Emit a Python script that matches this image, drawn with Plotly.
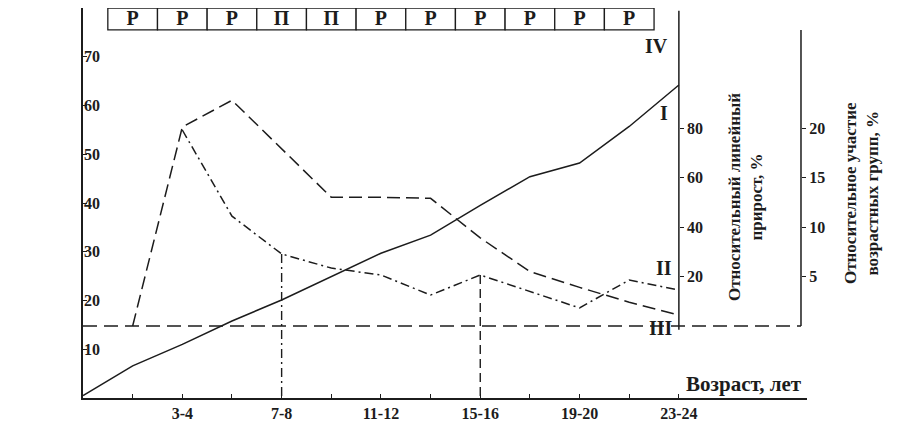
import plotly.graph_objects as go

# ось X: номер возрастной группы (0 = рождение, 2 = 3-4 года, ... 12 = 23-24 года)
x_ticks = list(range(13))
x_labels = ['', '', '3-4', '', '7-8', '', '11-12', '', '15-16', '', '19-20', '', '23-24']

# кривая I (левая ось)
x_i = [0, 1, 2, 3, 4, 5, 6, 7, 8, 9, 10, 11, 12]
y_i = [0.5, 6.6, 11.0, 15.8, 20.1, 24.9, 29.7, 33.4, 39.5, 45.4, 48.2, 55.7, 64.2]

# кривая II, относительный линейный прирост, %
x_ii = [2, 3, 4, 5, 6, 7, 8, 9, 10, 11, 12]
y_ii = [79.2, 44.4, 29.1, 23.4, 20.6, 12.5, 20.6, 13.9, 7.3, 18.6, 14.5]

# штриховая кривая, относительное участие возрастных групп, %
x_part = [1, 2, 3, 4, 5, 6, 7, 8, 9, 10, 11, 12]
y_part = [0, 20.1, 22.8, 17.9, 13.0, 13.0, 12.9, 8.9, 5.5, 3.9, 2.4, 1.1]

# вертикальные линии (7-8 и 15-16)
drop_x = [4, 8]

# верхняя полоса
band_x = [1, 2, 3, 4, 5, 6, 7, 8, 9, 10, 11]
band_txt = ['Р', 'Р', 'Р', 'П', 'П', 'Р', 'Р', 'Р', 'Р', 'Р', 'Р']

FONT = 'Liberation Serif'
INK = '#1c1c1c'
X_MAX = 14.58
Y2_RANGE = [-29.1, 128.5]
Y3_RANGE = [Y2_RANGE[0] / 4, Y2_RANGE[1] / 4]
AX2_POS = 0.9917

# пиксели окна -> координаты paper (страница сдвинута на 8px отступом body)
def px(x):
    return (x - 83) / 724

def py(y):
    return (398 - y) / 390


fig = go.Figure()

# верхняя полоса с буквами
fig.add_trace(go.Bar(x=band_x, y=[4.5] * len(band_x), base=75.5, width=1, cliponaxis=False,
                     marker=dict(color='white', line=dict(color=INK, width=1.3)),
                     showlegend=False, hoverinfo='skip'))
fig.add_trace(go.Scatter(x=band_x, y=[77.6] * len(band_x), mode='text', text=band_txt,
                         textfont=dict(family=FONT, size=20, color=INK, weight='bold'),
                         showlegend=False, hoverinfo='skip', cliponaxis=False))

# кривая I
fig.add_trace(go.Scatter(x=x_i, y=y_i, mode='lines', line=dict(color=INK, width=1.5),
                         showlegend=False))

# кривая II
fig.add_trace(go.Scatter(x=x_ii, y=y_ii, mode='lines', yaxis='y2',
                         line=dict(color=INK, width=1.5, dash='9px,4px,2px,4px'),
                         showlegend=False))

# вертикальные линии от кривой II до оси X
for k, d in enumerate(drop_x):
    fig.add_trace(go.Scatter(x=[d, d], y=[y_ii[x_ii.index(d)], Y2_RANGE[0]], mode='lines',
                             yaxis='y2',
                             line=dict(color=INK, width=1.4,
                                       dash='9px,4px,2px,4px' if k == 0 else '9px,5px'),
                             showlegend=False, hoverinfo='skip'))

# штриховая кривая
fig.add_trace(go.Scatter(x=x_part, y=y_part, mode='lines', yaxis='y3',
                         line=dict(color=INK, width=1.5, dash='13px,6px'),
                         showlegend=False))

# линия III (ноль правых осей)
fig.add_trace(go.Scatter(x=[0, AX2_POS * X_MAX], y=[0, 0], mode='lines', yaxis='y2',
                         line=dict(color=INK, width=1.4, dash='14px,7px'),
                         showlegend=False, hoverinfo='skip'))

tickfont = dict(family=FONT, size=16, color=INK, weight='bold')

fig.update_layout(
    width=894, height=430,
    margin=dict(l=75, r=95, t=0, b=40),
    plot_bgcolor='white', paper_bgcolor='white',
    xaxis=dict(range=[0, X_MAX], tickvals=x_ticks, ticktext=x_labels, ticks='inside',
               ticklen=4, tickcolor=INK, showline=True, linecolor=INK, linewidth=1.5,
               showgrid=False, zeroline=False, tickfont=tickfont),
    yaxis=dict(range=[0, 80], tickvals=[10, 20, 30, 40, 50, 60, 70], ticks='inside',
               ticklen=4, tickcolor=INK, showline=True, linecolor=INK, linewidth=1.5,
               showgrid=False, zeroline=False, tickfont=tickfont, ticklabelstandoff=-22),
    yaxis2=dict(range=Y2_RANGE, overlaying='y', anchor='free', position=12 / X_MAX,
                side='right', tickvals=[20, 40, 60, 80], ticks='outside', ticklen=4,
                tickcolor=INK, showline=False, showgrid=False, zeroline=False,
                tickfont=tickfont),
    yaxis3=dict(range=Y3_RANGE, overlaying='y', anchor='free', position=AX2_POS,
                side='right', tickvals=[5, 10, 15, 20], ticks='outside', ticklen=4,
                tickcolor=INK, showline=False, showgrid=False, zeroline=False,
                tickfont=tickfont),
    shapes=[
        dict(type='line', xref='x', x0=12, x1=12, yref='y2', y0=-1.5, y1=127.4,
             line=dict(color=INK, width=1.5)),
        dict(type='line', xref='paper', x0=AX2_POS, x1=AX2_POS, yref='y3', y0=0, y1=29.9,
             line=dict(color=INK, width=1.5)),
    ],
)

ann = [
    ('IV', 656, 46, 20), ('I', 664, 113, 20), ('II', 664, 268, 20), ('III', 661, 328, 20),
    ('Возраст, лет', 744, 384, 21),
]
for txt, x, y, s in ann:
    fig.add_annotation(x=px(x), y=py(y), xref='paper', yref='paper', text=txt,
                       showarrow=False, xanchor='center', yanchor='middle',
                       font=dict(family=FONT, size=s, color=INK, weight='bold'))

fig.add_annotation(x=px(745), y=py(197), xref='paper', yref='paper',
                   text='Относительный линейный<br>прирост, %', textangle=-90,
                   showarrow=False, xanchor='center', yanchor='middle',
                   font=dict(family=FONT, size=17, color=INK, weight='bold'))
fig.add_annotation(x=px(861), y=py(193), xref='paper', yref='paper',
                   text='Относительное участие<br>возрастных групп, %', textangle=-90,
                   showarrow=False, xanchor='center', yanchor='middle',
                   font=dict(family=FONT, size=17, color=INK, weight='bold'))

fig.write_html('out.html')
